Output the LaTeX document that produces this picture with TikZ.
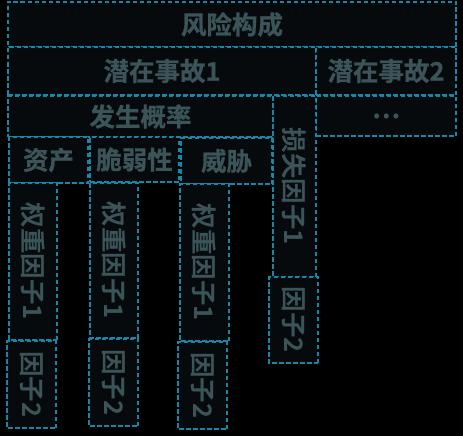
\documentclass[tikz,border=0pt]{standalone}
\usepackage{fontspec}
\newfontfamily\cjk{Noto Sans CJK SC Bold}[FakeBold=0.8]
\newfontfamily\cjkv{Noto Sans CJK SC Bold}
\definecolor{boxline}{HTML}{1588A8}
\definecolor{boxfill}{HTML}{060A0D}
\definecolor{boxtext}{HTML}{3A5458}
\begin{document}
\begin{tikzpicture}[x=1pt, y=-1pt,
	box/.style={draw=boxline, fill=boxfill, text=boxtext, line width=1.2pt,
		dash pattern=on 4.5pt off 2.5pt, inner sep=0pt,
		font=\cjk\fontsize{25.5}{25.5}\selectfont},
	vbox/.style={box, rotate=-90, font=\cjkv\fontsize{25.5}{25.5}\selectfont}]
	\fill[black] (0,0) rectangle (463,436);
	\useasboundingbox (0,0) rectangle (463,436);
	%--top rows
	\node[box, minimum width=448pt, minimum height=45pt] (risk) at (232,24.5) {风险构成};
	\node[box, minimum width=308pt, minimum height=48pt] (acc1) at (162,71) {潜在事故1};
	\node[box, minimum width=140pt, minimum height=48pt] (acc2) at (386,71) {潜在事故2};
	\node[box, minimum width=265pt, minimum height=41pt] (prob) at (140.5,116.5) {发生概率};
	\node[box, minimum width=140pt, minimum height=40pt] (more) at (386,116) {…};
	%--third row
	\node[box, minimum width=79pt, minimum height=46pt] (asset) at (48.5,160) {资产};
	\node[box, minimum width=89pt, minimum height=45pt] (vuln) at (134.5,159.5) {脆弱性};
	\node[box, minimum width=91pt, minimum height=46pt] (threat) at (226.5,161) {威胁};
	%--vertical factor columns
	\node[vbox, minimum width=181pt, minimum height=43pt] (loss1) at (294.5,186.5) {损失因子1};
	\node[vbox, minimum width=86pt, minimum height=49pt] (loss2) at (293.5,320) {因子2};
	\node[vbox, minimum width=157pt, minimum height=48pt] (wasset) at (33,261.5) {权重因子1};
	\node[vbox, minimum width=87pt, minimum height=49pt] (fasset) at (31.5,384.5) {因子2};
	\node[vbox, minimum width=155pt, minimum height=48pt] (wvuln) at (114,260.5) {权重因子1};
	\node[vbox, minimum width=87pt, minimum height=49pt] (fvuln) at (113.5,382.5) {因子2};
	\node[vbox, minimum width=157pt, minimum height=49pt] (wthreat) at (204.5,262.5) {权重因子1};
	\node[vbox, minimum width=87pt, minimum height=49pt] (fthreat) at (202.5,385.5) {因子2};
\end{tikzpicture}
\end{document}
